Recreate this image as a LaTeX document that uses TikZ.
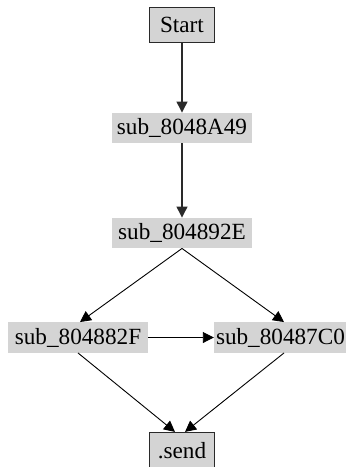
\documentclass[tikz,border=0pt]{standalone}
\usepackage{fontspec}
\setmainfont{Liberation Serif}
\usetikzlibrary{arrows.meta}
\definecolor{boxgray}{HTML}{D4D4D4}
\definecolor{linegray}{HTML}{2A2A2A}
\begin{document}
\begin{tikzpicture}[x=1pt,y=-1pt,
  fn/.style={fill=boxgray, inner sep=0pt, minimum width=140pt, minimum height=30.5pt, font=\fontsize{23.2}{25}\selectfont},
  term/.style={fill=boxgray, draw=linegray, line width=1.2pt, inner sep=0pt, minimum width=65pt, minimum height=35pt, font=\fontsize{23.2}{25}\selectfont},
  edge/.style={draw=black, line width=0.9pt, -{Triangle[length=11pt,width=11pt]}}]
\useasboundingbox (0,0) rectangle (346,467);
\begin{scope}
\clip (0,0) rectangle (346,467);
\node[term] (start) at (182,25) {Start};
\node[fn] (a) at (182,128) {sub\_8048A49};
\node[fn] (b) at (182,233) {sub\_804892E};
\node[fn] (c) at (78,337.5) {sub\_804882F};
\node[fn, minimum width=132pt, text width=128pt, align=right] (d) at (280,337.5) {sub\_80487C0};
\node[term, minimum height=36pt] (send) at (182,450.5) {.send};
\end{scope}
\draw[edge, line width=1.2pt, draw=linegray] (start.south) -- (a.north);
\draw[edge, line width=1.2pt, draw=linegray] (a.south) -- (b.north);
\draw[edge] (b.south) -- ([xshift=2pt]c.north);
\draw[edge] (b.south) -- ([xshift=4pt]d.north);
\draw[edge] (c.east) -- (d.west);
\draw[edge] (c.south) -- ([xshift=-7pt]send.north);
\draw[edge] ([xshift=4pt]d.south) -- ([xshift=3pt]send.north);
\end{tikzpicture}
\end{document}
